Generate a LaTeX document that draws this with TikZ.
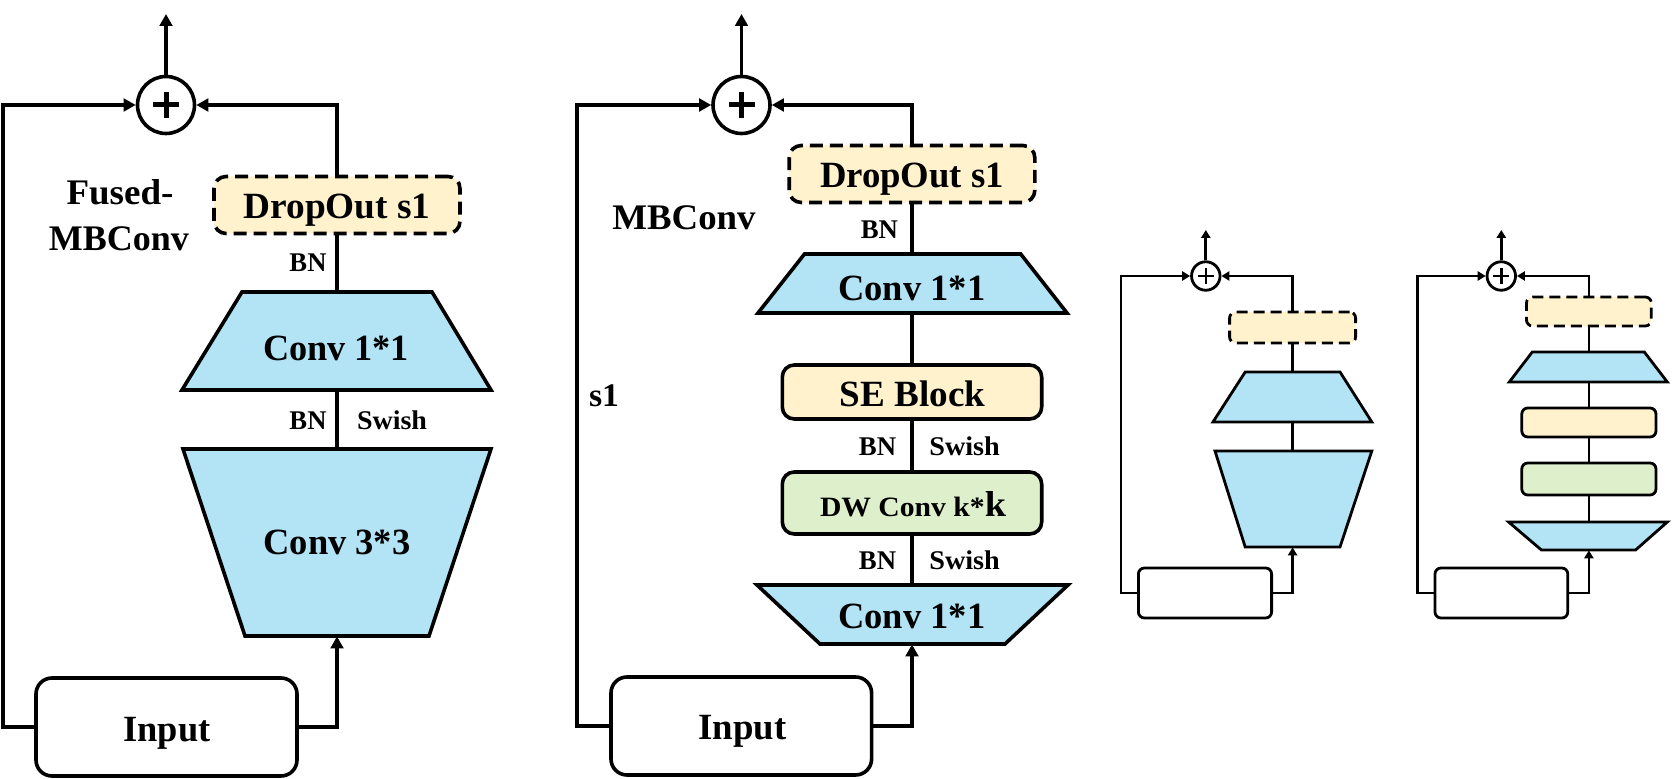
\documentclass[tikz,border=0pt]{standalone}
\usepackage{fontspec}
\setmainfont{Liberation Serif}
\usetikzlibrary{shapes.geometric,arrows.meta}
\definecolor{cblue}{RGB}{178,228,246}
\definecolor{ccream}{RGB}{255,242,204}
\definecolor{cgreen}{RGB}{222,239,204}
\newcommand{\tx}[3]{{\fontsize{#2}{#2}\selectfont\bfseries\resizebox{#1}{\height}{#3}}}
\begin{document}
\begin{tikzpicture}[x=0.5pt,y=-0.5pt,
  ln/.style={line width=1.8pt},
  lns/.style={line width=1.4pt},
  arr/.style={ln,-{Triangle[length=6pt,width=6.3pt]}},
  arrs/.style={lns,-{Triangle[length=4pt,width=4.6pt]}},
  lbl/.style={anchor=base,inner sep=0pt},
  anc/.style={inner sep=0pt,minimum width=1pt},
  box/.style={draw,ln,inner sep=0pt,rounded corners=6pt},
  sbox/.style={draw,lns,inner sep=0pt,rounded corners=3pt},
  drop/.style={box,fill=ccream,dash pattern=on 6.5pt off 3.5pt},
  sdrop/.style={sbox,fill=ccream,dash pattern=on 5.5pt off 3pt},
  trap/.style={ln,fill=cblue},
  straps/.style={lns,fill=cblue},
  plusc/.style={circle,draw,ln,fill=white,inner sep=0pt,minimum size=28.5pt},
  splusc/.style={circle,draw,lns,fill=white,inner sep=0pt,minimum size=14.25pt},
]
\useasboundingbox (0,0) rectangle (1672,779);

%================ Fused-MBConv =================
\node[box,fill=white,rounded corners=8pt,minimum width=130.5pt,minimum height=49pt] (fin) at (166.5,727) {};
\node[lbl] (fint) at (167,742) {\tx{43.5pt}{18.5pt}{Input}};
\draw[trap] (183,449) -- (491,449) -- (429,636) -- (245,636) -- cycle;
\node[anc,minimum height=93.5pt] (fc33) at (337,542.5) {};
\node[lbl] (fc33t) at (337,555) {\tx{73.5pt}{18.5pt}{Conv 3*3}};
\draw[trap] (242,292) -- (432,292) -- (491,390) -- (182,390) -- cycle;
\node[anc,minimum height=49pt] (fc11) at (337,341) {};
\node[lbl] (fc11t) at (336,361) {\tx{73pt}{18.5pt}{Conv 1*1}};
\node[drop,minimum width=123pt,minimum height=28.5pt] (fdo) at (337,205) {};
\node[lbl] (fdot) at (337,218.5) {\tx{93.5pt}{18.5pt}{DropOut s1}};
\node[plusc] (fp) at (166,105) {};
\draw[line width=2.5pt] ([xshift=-6.5pt]fp.center) -- ([xshift=6.5pt]fp.center);
\draw[line width=2.5pt] ([yshift=-6.5pt]fp.center) -- ([yshift=6.5pt]fp.center);
\coordinate (fo) at (166,14);
\coordinate (fl) at (3,105);
\node[lbl] (fbn1) at (308,271.5) {\tx{18.5pt}{13.5pt}{BN}};
\node[lbl] (fbn2) at (308,430) {\tx{18.5pt}{13.5pt}{BN}};
\node[lbl] (fsw) at (392,430) {\tx{35pt}{13.5pt}{Swish}};
\node[lbl] (flab1) at (120,205) {\tx{53.5pt}{18pt}{Fused-}};
\node[lbl] (flab2) at (119,251) {\tx{70pt}{18pt}{MBConv}};

\draw[arr] (fin.east) -| (fc33.south);
\draw[ln] (fc33.north) -- (fc11.south);
\draw[ln] (fc11.north) -- (fdo.south);
\draw[arr] (fdo.north) |- (fp.east);
\draw[arr] (fin.west) -| (fl) -- (fp.west);
\draw[arr] (fp.north) -- (fo);

%================ MBConv =================
\node[box,fill=white,rounded corners=8pt,minimum width=130.3pt,minimum height=49pt] (min) at (741.3,726) {};
\node[lbl] (mint) at (742.3,740) {\tx{44pt}{18.5pt}{Input}};
\draw[trap] (757,585) -- (1068,585) -- (1005,644) -- (820,644) -- cycle;
\node[anc,minimum height=29.5pt] (mc1b) at (912,614.5) {};
\node[lbl] (mc1bt) at (911.8,628.5) {\tx{73.5pt}{18.5pt}{Conv 1*1}};
\node[box,fill=cgreen,minimum width=129.7pt,minimum height=31pt] (mdw) at (912,503) {};
\node[lbl] (mdwt) at (913,516.5) {\tx{93pt}{14pt}{DW Conv k*{\fontsize{18pt}{18pt}\selectfont k}}};
\node[box,fill=ccream,minimum width=129.7pt,minimum height=27pt] (mse) at (912,392) {};
\node[lbl] (mset) at (912.4,406.5) {\tx{72.8pt}{18.5pt}{SE Block}};
\draw[trap] (804.5,254) -- (1020.7,254) -- (1067,313) -- (758,313) -- cycle;
\node[anc,minimum height=29.5pt] (mc1t) at (912,283.5) {};
\node[lbl] (mc1tt) at (911.8,300.5) {\tx{73.5pt}{18.5pt}{Conv 1*1}};
\node[drop,minimum width=122.8pt,minimum height=28.5pt] (mdo) at (912,174) {};
\node[lbl] (mdot) at (912,188) {\tx{92pt}{18.5pt}{DropOut s1}};
\node[plusc] (mp) at (741.5,105) {};
\draw[line width=2.5pt] ([xshift=-6.5pt]mp.center) -- ([xshift=6.5pt]mp.center);
\draw[line width=2.5pt] ([yshift=-6.5pt]mp.center) -- ([yshift=6.5pt]mp.center);
\coordinate (mo) at (741.5,14);
\coordinate (ml) at (577,105);
\node[lbl] (mbn1) at (879.4,238.5) {\tx{18.6pt}{13.5pt}{BN}};
\node[lbl] (mbn2) at (877.5,456) {\tx{18.6pt}{13.5pt}{BN}};
\node[lbl] (msw2) at (964.6,456) {\tx{35.3pt}{13.5pt}{Swish}};
\node[lbl] (mbn3) at (877.5,570) {\tx{18.6pt}{13.5pt}{BN}};
\node[lbl] (msw3) at (964.6,570) {\tx{35.3pt}{13.5pt}{Swish}};
\node[lbl] (mlab) at (684,230) {\tx{71.6pt}{18pt}{MBConv}};
\node[lbl] (ms1) at (604,407) {\tx{15pt}{16.5pt}{s1}};

\draw[arr] (min.east) -| (mc1b.south);
\draw[ln] (mc1b.north) -- (mdw.south);
\draw[ln] (mdw.north) -- (mse.south);
\draw[ln] (mse.north) -- (mc1t.south);
\draw[ln] (mc1t.north) -- (mdo.south);
\draw[arr] (mdo.north) |- (mp.east);
\draw[arr] (min.west) -| (ml) -- (mp.west);
\draw[arr] (mp.north) -- (mo);

%================ small Fused-MBConv =================
\node[sbox,fill=white,minimum width=66.6pt,minimum height=25pt] (sin) at (1205,593) {};
\draw[straps] (1215,451) -- (1371.8,451) -- (1340,547) -- (1245.2,547) -- cycle;
\node[anc,minimum height=48pt] (sc33) at (1292.6,499) {};
\draw[straps] (1245.2,372) -- (1340,372) -- (1371.8,422) -- (1213,422) -- cycle;
\node[anc,minimum height=25pt] (sc11) at (1292.6,397) {};
\node[sdrop,minimum width=63pt,minimum height=15.5pt] (sdo) at (1292.6,327.5) {};
\node[splusc] (sp) at (1205.8,276) {};
\draw[line width=1.3pt] ([xshift=-4pt]sp.center) -- ([xshift=4pt]sp.center);
\draw[line width=1.3pt] ([yshift=-4pt]sp.center) -- ([yshift=4pt]sp.center);
\coordinate (so) at (1205.8,230);
\coordinate (sl) at (1121,276);

\draw[arrs] (sin.east) -| (sc33.south);
\draw[lns] (sc33.north) -- (sc11.south);
\draw[lns] (sc11.north) -- (sdo.south);
\draw[arrs] (sdo.north) |- (sp.east);
\draw[arrs] (sin.west) -| (sl) -- (sp.west);
\draw[arrs] (sp.north) -- (so);

%================ small MBConv =================
\node[sbox,fill=white,minimum width=66.4pt,minimum height=25pt] (tin) at (1501.4,593) {};
\draw[straps] (1508.6,522) -- (1667.3,522) -- (1635.6,550) -- (1541.4,550) -- cycle;
\node[anc,minimum height=14pt] (tc1b) at (1588.9,536) {};
\node[sbox,fill=cgreen,minimum width=67.1pt,minimum height=16pt] (tdw) at (1588.9,479) {};
\node[sbox,fill=ccream,minimum width=67.1pt,minimum height=14.5pt] (tse) at (1588.9,422.5) {};
\draw[straps] (1532.3,352) -- (1644.3,352) -- (1667.3,382) -- (1509.3,382) -- cycle;
\node[anc,minimum height=15pt] (tc1t) at (1588.9,367) {};
\node[sdrop,minimum width=62.4pt,minimum height=14.5pt] (tdo) at (1588.9,311.5) {};
\node[splusc] (tp) at (1501.3,276) {};
\draw[line width=1.3pt] ([xshift=-4pt]tp.center) -- ([xshift=4pt]tp.center);
\draw[line width=1.3pt] ([yshift=-4pt]tp.center) -- ([yshift=4pt]tp.center);
\coordinate (to) at (1501.3,230);
\coordinate (tl) at (1417.4,276);

\draw[arrs] (tin.east) -| (tc1b.south);
\draw[lns] (tc1b.north) -- (tdw.south);
\draw[lns] (tdw.north) -- (tse.south);
\draw[lns] (tse.north) -- (tc1t.south);
\draw[lns] (tc1t.north) -- (tdo.south);
\draw[arrs] (tdo.north) |- (tp.east);
\draw[arrs] (tin.west) -| (tl) -- (tp.west);
\draw[arrs] (tp.north) -- (to);
\end{tikzpicture}
\end{document}
